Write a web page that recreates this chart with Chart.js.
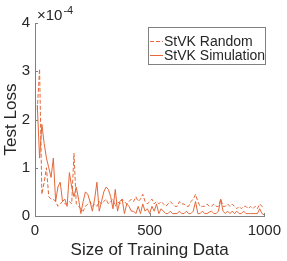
<!DOCTYPE html>
<html>
<head>
<meta charset="utf-8">
<script src="https://cdn.jsdelivr.net/npm/chart.js@4/dist/chart.umd.min.js"></script>
<style>
  html, body { margin: 0; padding: 0; background: #fff; }
  canvas { display: block; }
</style>
</head>
<body>
<canvas id="c" width="287" height="261"></canvas>
<script>
// training set sizes
const sizes = [];
for (let i = 1; i <= 100; i++) sizes.push(i * 10);

// test loss in units of 1e-4
const lossRandom = [
  2.2, 3.05, 0.45, 0.7, 1.0, 0.4, 0.35, 0.35, 0.3, 0.2,
  0.25, 0.3, 0.25, 0.25, 0.3, 0.25, 1.3, 0.25, 0.2, 0.15,
  0.1, 0.2, 0.25, 0.3, 0.2, 0.25, 0.2, 0.3, 0.25, 0.3,
  0.35, 0.25, 0.3, 0.35, 0.2, 0.3, 0.25, 0.35, 0.3, 0.25,
  0.3, 0.35, 0.3, 0.4, 0.3, 0.35, 0.45, 0.3, 0.25, 0.3,
  0.35, 0.25, 0.3, 0.25, 0.3, 0.25, 0.2, 0.25, 0.3, 0.25,
  0.2, 0.2, 0.3, 0.25, 0.25, 0.2, 0.2, 0.3, 0.35, 0.45,
  0.3, 0.2, 0.2, 0.2, 0.25, 0.2, 0.2, 0.25, 0.2, 0.2,
  0.35, 0.2, 0.2, 0.25, 0.2, 0.25, 0.2, 0.15, 0.2, 0.15,
  0.2, 0.2, 0.15, 0.2, 0.15, 0.2, 0.15, 0.25, 0.2, 0.15
];
const lossSimulation = [
  2.3, 1.2, 1.9, 1.5, 1.2, 1.0, 0.8, 1.2, 0.3, 0.6,
  0.7, 0.3, 0.35, 0.2, 0.9, 0.6, 0.4, 0.6, 0.35, 0.05,
  0.3, 0.5, 0.45, 0.3, 0.1, 0.35, 0.7, 0.1, 0.3, 0.5,
  0.6, 0.55, 0.4, 0.15, 0.55, 0.1, 0.3, 0.35, 0.05, 0.25,
  0.2, 0.1, 0.1, 0.05, 0.2, 0.05, 0.25, 0.1, 0.15, 0.05,
  0.2, 0.1, 0.25, 0.05, 0.15, 0.1, 0.05, 0.05, 0.1, 0.05,
  0.05, 0.05, 0.1, 0.05, 0.05, 0.1, 0.05, 0.05, 0.1, 0.3,
  0.05, 0.05, 0.1, 0.05, 0.05, 0.08, 0.1, 0.05, 0.05, 0.1,
  0.35, 0.1, 0.05, 0.1, 0.05, 0.1, 0.05, 0.1, 0.05, 0.05,
  0.1, 0.05, 0.05, 0.05, 0.05, 0.05, 0.05, 0.15, 0.05, 0.02
];

const xTicks = [0, 500, 1000];
const yTicks = [0, 1, 2, 3, 4];
const seriesNames = ['StVK Random', 'StVK Simulation'];

const lineColor = '#E4683A';
const axisColor = '#808080';
const textColor = '#262626';
const fontFamily = '"Liberation Sans", Arial, sans-serif';

const toPoints = arr => arr.map((v, i) => ({ x: sizes[i], y: v }));

const extras = {
  id: 'extras',
  afterDraw: chart => {
    const ctx = chart.ctx;
    const xs = chart.scales.x;
    const ys = chart.scales.y;
    ctx.save();
    // inward tick marks, matlab style
    ctx.strokeStyle = axisColor;
    ctx.lineWidth = 1;
    ctx.beginPath();
    xTicks.forEach(t => {
      const px = Math.round(xs.getPixelForValue(t)) + 0.5;
      ctx.moveTo(px, ys.bottom);
      ctx.lineTo(px, ys.bottom - 3);
    });
    yTicks.forEach(t => {
      const py = Math.round(ys.getPixelForValue(t)) + 0.5;
      ctx.moveTo(xs.left, py);
      ctx.lineTo(xs.left + 3, py);
    });
    ctx.stroke();

    // exponent label
    ctx.fillStyle = textColor;
    ctx.textBaseline = 'alphabetic';
    ctx.font = '15px ' + fontFamily;
    ctx.fillText('\u00d710', 37, 20);
    const w = ctx.measureText('\u00d710').width;
    ctx.font = '11px ' + fontFamily;
    ctx.fillText('-4', 37 + w + 1, 14);

    // legend box
    const bx = 148.5, by = 27.5, bw = 117, bh = 37;
    ctx.fillStyle = '#fff';
    ctx.fillRect(bx, by, bw, bh);
    ctx.strokeStyle = axisColor;
    ctx.strokeRect(bx, by, bw, bh);
    ctx.font = '14px ' + fontFamily;
    ctx.textBaseline = 'middle';
    const rows = [41, 55];
    chart.data.datasets.forEach((ds, i) => {
      ctx.strokeStyle = ds.borderColor;
      ctx.lineWidth = 1;
      ctx.setLineDash(ds.borderDash || []);
      ctx.beginPath();
      ctx.moveTo(150, rows[i] + 0.5);
      ctx.lineTo(163, rows[i] + 0.5);
      ctx.stroke();
      ctx.setLineDash([]);
      ctx.fillStyle = textColor;
      ctx.fillText(ds.label, 164, rows[i] + 1);
    });
    ctx.restore();
  }
};

new Chart(document.getElementById('c'), {
  type: 'line',
  plugins: [extras],
  data: {
    datasets: [{
      label: seriesNames[0],
      data: toPoints(lossRandom),
      borderColor: lineColor,
      borderWidth: 1,
      borderDash: [4, 2],
      pointRadius: 0,
      tension: 0,
      fill: false
    }, {
      label: seriesNames[1],
      data: toPoints(lossSimulation),
      borderColor: lineColor,
      borderWidth: 1,
      pointRadius: 0,
      tension: 0,
      fill: false
    }]
  },
  options: {
    responsive: false,
    animation: false,
    layout: { padding: { left: 0, right: 17, top: 23, bottom: 0 } },
    plugins: {
      legend: { display: false },
      tooltip: { enabled: false }
    },
    scales: {
      x: {
        type: 'linear',
        min: 0,
        max: 1000,
        afterFit: s => { s.height = 45; },
        afterBuildTicks: s => { s.ticks = xTicks.map(v => ({ value: v })); },
        grid: { display: false, drawTicks: false },
        border: { display: true, color: axisColor, width: 1 },
        ticks: {
          color: textColor, padding: 6, maxRotation: 0,
          font: { family: fontFamily, size: 15 },
          callback: v => String(v)
        },
        title: {
          display: true,
          text: 'Size of Training Data',
          color: textColor,
          padding: { top: 0, bottom: 0 },
          font: { family: fontFamily, size: 17 }
        }
      },
      y: {
        min: 0,
        max: 4,
        afterFit: s => { s.width = 35; },
        afterBuildTicks: s => { s.ticks = yTicks.map(v => ({ value: v })); },
        grid: { display: false, drawTicks: false },
        border: { display: true, color: axisColor, width: 1 },
        ticks: {
          color: textColor, padding: 5,
          font: { family: fontFamily, size: 15 },
          callback: v => String(v)
        },
        title: {
          display: true,
          text: 'Test Loss',
          color: textColor,
          padding: { top: 1, bottom: 0 },
          font: { family: fontFamily, size: 17 }
        }
      }
    }
  }
});
</script>
</body>
</html>
